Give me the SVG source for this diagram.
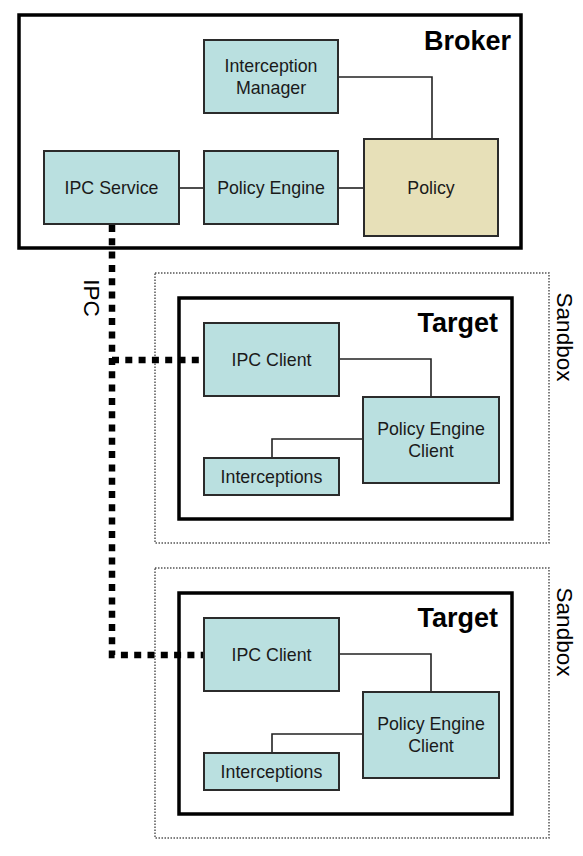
<svg xmlns="http://www.w3.org/2000/svg" width="583" height="856" viewBox="0 0 583 856">
<style>
.box{fill:#bae0e0;stroke:#2b2b2b;stroke-width:2}
.pol{fill:#e7e0b8;stroke:#2b2b2b;stroke-width:2}
.frame{fill:#fff;stroke:#000;stroke-width:3.5}
.sand{fill:none;stroke:#555;stroke-width:1.5;stroke-dasharray:1.5 1.5}
.lbl{font-family:"Liberation Sans",Arial,sans-serif;font-size:17.8px;fill:#1a1a1a;text-anchor:middle}
.title{font-family:"Liberation Sans",Arial,sans-serif;font-size:27px;font-weight:bold;fill:#000;text-anchor:end}
.side{font-family:"Liberation Sans",Arial,sans-serif;font-size:22.5px;fill:#000;text-anchor:middle}
.ln{fill:none;stroke:#222;stroke-width:1.6}
.ipc{fill:none;stroke:#000;stroke-width:6.5;stroke-dasharray:7 6.3}
</style>
<rect width="583" height="856" fill="#fff"/>
<g id="broker">
<rect class="frame" x="19" y="15" width="502" height="233"/>
<text class="title" x="511" y="50">Broker</text>
</g>
<g id="sandbox1">
<rect class="sand" x="155" y="273" width="394" height="270"/>
<text class="side" transform="translate(557,337) rotate(90)">Sandbox</text>
</g>
<g id="target1">
<rect class="frame" x="179" y="298" width="333" height="221"/>
<text class="title" x="498" y="332">Target</text>
</g>
<g id="sandbox2">
<rect class="sand" x="155" y="568" width="394" height="270"/>
<text class="side" transform="translate(557,632) rotate(90)">Sandbox</text>
</g>
<g id="target2">
<rect class="frame" x="179" y="593" width="333" height="221"/>
<text class="title" x="498" y="627">Target</text>
</g>
<g id="connectors">
<path class="ln" d="M339,77 H432 V138"/>
<path class="ln" d="M179,188 H204"/>
<path class="ln" d="M339,188 H364"/>
<path class="ln" d="M339,359 H431 V397"/>
<path class="ln" d="M363,439 H272 V458"/>
<path class="ln" d="M339,654 H431 V692"/>
<path class="ln" d="M363,734 H272 V753"/>
<path class="ipc" d="M112,225 V655 H204"/>
<path class="ipc" d="M112,360 H204"/>
<text class="side" transform="translate(84,298) rotate(90)">IPC</text>
</g>
<g id="interception-manager">
<rect class="box" x="204" y="40" width="134" height="73"/>
<text class="lbl" x="271" y="72">Interception</text>
<text class="lbl" x="271" y="94">Manager</text>
</g>
<g id="ipc-service">
<rect class="box" x="44" y="151" width="135" height="73"/>
<text class="lbl" x="111.5" y="194">IPC Service</text>
</g>
<g id="policy-engine">
<rect class="box" x="204" y="151" width="134" height="73"/>
<text class="lbl" x="271" y="194">Policy Engine</text>
</g>
<g id="policy">
<rect class="pol" x="364" y="139" width="134" height="97"/>
<text class="lbl" x="431" y="194">Policy</text>
</g>
<g id="ipc-client-1">
<rect class="box" x="204" y="323" width="135" height="73"/>
<text class="lbl" x="271.5" y="366">IPC Client</text>
</g>
<g id="policy-engine-client-1">
<rect class="box" x="363" y="397" width="136" height="86"/>
<text class="lbl" x="431" y="435">Policy Engine</text>
<text class="lbl" x="431" y="457">Client</text>
</g>
<g id="interceptions-1">
<rect class="box" x="204" y="458" width="135" height="37"/>
<text class="lbl" x="271.5" y="483">Interceptions</text>
</g>
<g id="ipc-client-2">
<rect class="box" x="204" y="618" width="135" height="73"/>
<text class="lbl" x="271.5" y="661">IPC Client</text>
</g>
<g id="policy-engine-client-2">
<rect class="box" x="363" y="692" width="136" height="86"/>
<text class="lbl" x="431" y="730">Policy Engine</text>
<text class="lbl" x="431" y="752">Client</text>
</g>
<g id="interceptions-2">
<rect class="box" x="204" y="753" width="135" height="37"/>
<text class="lbl" x="271.5" y="778">Interceptions</text>
</g>
</svg>
